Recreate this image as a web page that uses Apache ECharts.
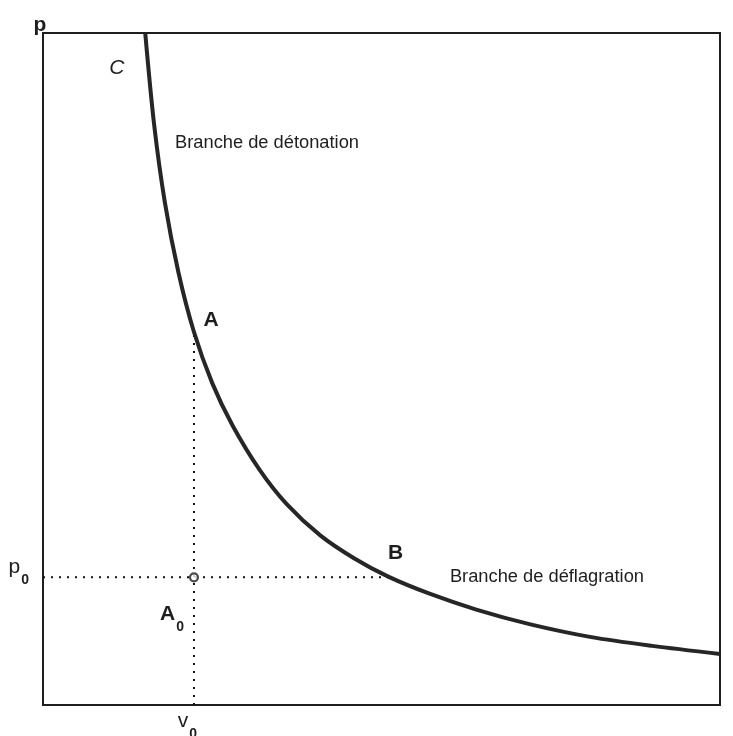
<!DOCTYPE html>
<html>
<head>
<meta charset="utf-8">
<script src="https://cdn.jsdelivr.net/npm/echarts@6/dist/echarts.min.js"></script>
<style>
  html, body { margin: 0; padding: 0; background: #ffffff; }
  #chart { width: 733px; height: 736px; }
</style>
</head>
<body>
<div id="chart"></div>
<script>
// Courbe de Crussard (pression p en fonction du volume spécifique v), unités arbitraires
const curveV = [15.1, 16.4, 18.0, 20.0, 22.3, 25.0, 28.0, 32.0, 36.0, 41.0, 46.0, 51.0, 57.0, 64.0, 72.0, 81.0, 90.0, 100];
const curveP = [100, 86.5, 74.8, 64.4, 55.5, 47.9, 41.6, 35.0, 29.9, 25.2, 21.8, 19.1, 16.6, 14.2, 12.0, 10.1, 8.8, 7.6];

// État initial A0 = (v0, p0) et points remarquables de la courbe
const v0 = 22.3;
const p0 = 19.0;
const pointA = [22.3, 55.5];
const pointB = [51.2, 19.0];

// Annotations du diagramme
const labelC = { text: 'C', at: [10.9, 94.8] };
const labelDetonation = { text: 'Branche de détonation', at: [19.5, 83.7] };
const labelDeflagration = { text: 'Branche de déflagration', at: [60.1, 19.1] };

const FONT = '"Liberation Sans", Arial, sans-serif';
const INK = '#1e1e1e';

const chart = echarts.init(document.getElementById('chart'), null, { renderer: 'canvas' });

const curveData = curveV.map((v, i) => [v, curveP[i]]);

// Texte ancré sur un point du repère (symbole invisible)
function textPoint(name, coord, label) {
  return {
    name: name,
    type: 'scatter',
    symbolSize: 0,
    silent: true,
    z: 5,
    data: [coord],
    itemStyle: { color: INK, opacity: 1 },
    label: Object.assign({
      show: true,
      position: 'inside',
      color: INK,
      opacity: 1,
      textBorderWidth: 0,
      fontFamily: FONT,
      fontSize: 21
    }, label)
  };
}

// Indices (p0, v0, A0) en texte enrichi
const subRich = {
  m: { fontFamily: FONT, fontSize: 21, color: INK, lineHeight: 22 },
  mb: { fontFamily: FONT, fontSize: 21, fontWeight: 'bold', color: INK, lineHeight: 22 },
  s: { fontFamily: FONT, fontSize: 14, fontWeight: 'bold', color: INK, lineHeight: 22, padding: [26, 0, 0, 1] }
};

const option = {
  animation: false,
  backgroundColor: '#ffffff',
  grid: {
    left: 43, right: 13, top: 33, bottom: 31,
    show: true,
    borderColor: INK,
    borderWidth: 2
  },
  xAxis: {
    type: 'value', min: 0, max: 100,
    axisLine: { show: true, lineStyle: { color: INK, width: 2 } },
    axisTick: { show: false },
    axisLabel: { show: false },
    splitLine: { show: false }
  },
  yAxis: {
    type: 'value', min: 0, max: 100,
    name: 'p',
    nameLocation: 'end',
    nameGap: -3,
    nameTextStyle: { fontFamily: FONT, fontSize: 21, fontWeight: 'bold', color: INK, padding: [0, 6, 0, 0] },
    axisLine: { show: true, lineStyle: { color: INK, width: 2 } },
    axisTick: { show: false },
    axisLabel: { show: false },
    splitLine: { show: false }
  },
  series: [
    {
      name: 'courbe',
      type: 'line',
      data: curveData,
      smooth: 0.3,
      showSymbol: false,
      silent: true,
      z: 4,
      lineStyle: { color: '#262626', width: 4 }
    },
    {
      name: 'p0',
      type: 'line',
      data: [[0, p0], pointB],
      showSymbol: false,
      silent: true,
      z: 3,
      lineStyle: { color: '#111111', width: 2, type: [2, 6] }
    },
    {
      name: 'v0',
      type: 'line',
      data: [[v0, 0], pointA],
      showSymbol: false,
      silent: true,
      z: 3,
      lineStyle: { color: '#111111', width: 2, type: [2, 6] }
    },
    {
      name: 'A0',
      type: 'scatter',
      symbol: 'circle',
      symbolSize: 8,
      silent: true,
      z: 6,
      data: [[v0, p0]],
      itemStyle: { color: '#ffffff', borderColor: INK, borderWidth: 2.2 }
    },
    textPoint('A0 label', [v0, p0], { align: 'right', verticalAlign: 'top', offset: [-10, 26], formatter: '{mb|A}{s|0}', rich: subRich }),
    textPoint('A', pointA, { fontWeight: 'bold', align: 'center', verticalAlign: 'middle', offset: [17, -12], formatter: 'A' }),
    textPoint('B', pointB, { fontWeight: 'bold', align: 'center', verticalAlign: 'middle', offset: [6, -24], formatter: 'B' }),
    textPoint('p0 label', [0, p0], { align: 'right', verticalAlign: 'middle', offset: [-14, -10], formatter: '{m|p}{s|0}', rich: subRich }),
    textPoint('v0 label', [v0, 0], { align: 'right', verticalAlign: 'top', offset: [3, 5], formatter: '{m|v}{s|0}', rich: subRich }),
    textPoint('C', labelC.at, { fontStyle: 'italic', align: 'center', verticalAlign: 'middle', formatter: labelC.text }),
    textPoint('détonation', labelDetonation.at, { fontSize: 18.3, align: 'left', verticalAlign: 'middle', formatter: labelDetonation.text }),
    textPoint('déflagration', labelDeflagration.at, { fontSize: 18.3, align: 'left', verticalAlign: 'middle', formatter: labelDeflagration.text })
  ]
};

chart.setOption(option);
</script>
</body>
</html>
